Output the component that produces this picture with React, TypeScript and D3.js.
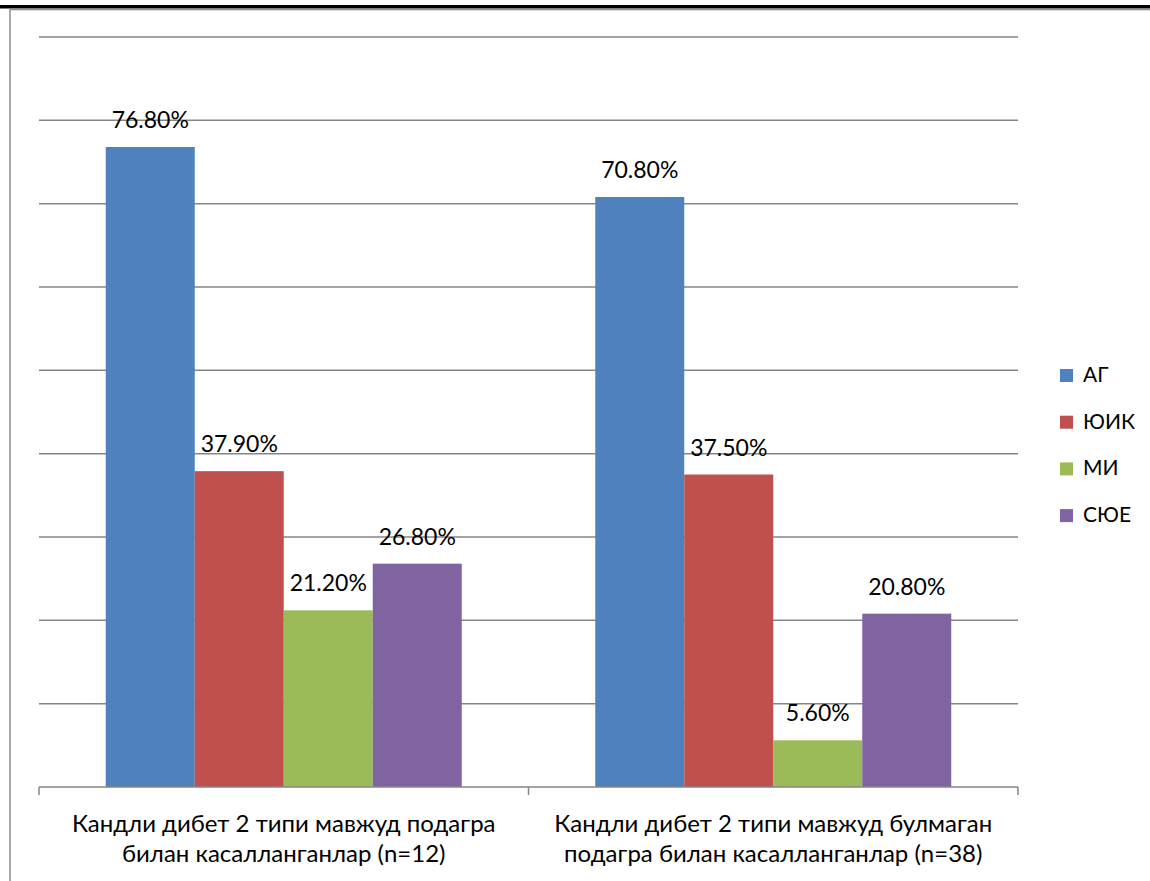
import React from "react";
import * as d3 from "d3";

const categories = [
  ["Кандли дибет 2 типи мавжуд подагра", "билан касалланганлар (n=12)"],
  ["Кандли дибет 2 типи мавжуд булмаган", "подагра билан касалланганлар (n=38)"],
];
const seriesNames = ["АГ", "ЮИК", "МИ", "СЮЕ"];
const seriesColors = ["#4F81BD", "#C0504D", "#9BBB59", "#8064A2"];
const seriesValues = [
  [0.768, 0.708],
  [0.379, 0.375],
  [0.212, 0.056],
  [0.268, 0.208],
];
const yTicks = [0, 0.1, 0.2, 0.3, 0.4, 0.5, 0.6, 0.7, 0.8, 0.9];

const W = 1150;
const H = 881;
const plot = { left: 39, right: 1018, top: 37, bottom: 787 };
const FONT = "Lato, 'Open Sans', sans-serif";

export default function App() {
  const y = d3.scaleLinear().domain([0, 0.9]).range([plot.bottom, plot.top]);
  const x0 = d3
    .scaleBand<number>()
    .domain(categories.map((_, i) => i))
    .range([plot.left, plot.right])
    .paddingInner(0)
    .paddingOuter(0);
  const innerPad = (x0.bandwidth() - 356) / 2;
  const x1 = d3
    .scaleBand<number>()
    .domain(seriesNames.map((_, i) => i))
    .range([innerPad, x0.bandwidth() - innerPad])
    .padding(0);

  const fmt = (v: number) => (v * 100).toFixed(2) + "%";

  return (
    <svg
      width={W}
      height={H}
      style={{ position: "absolute", left: 0, top: 0, background: "#fff" }}
      fontFamily={FONT}
    >
      <rect x={0} y={0} width={W} height={H} fill="#fff" />
      {/* page frame */}
      <rect x={0} y={5} width={W} height={3.5} fill="#000" />
      <line x1={10} x2={W} y1={9.5} y2={9.5} stroke="#8c8c8c" strokeWidth={1.5} />
      <line x1={10} x2={10} y1={9} y2={H} stroke="#8c8c8c" strokeWidth={1.5} />

      {/* gridlines */}
      {yTicks.slice(1).map((t) => (
        <line
          key={t}
          x1={plot.left}
          x2={plot.right}
          y1={y(t)}
          y2={y(t)}
          stroke="#868686"
          strokeWidth={1.5}
        />
      ))}

      {/* bars */}
      {seriesValues.map((vals, s) =>
        vals.map((v, c) => (
          <rect
            key={`${s}-${c}`}
            x={(x0(c) ?? 0) + (x1(s) ?? 0)}
            y={y(v)}
            width={x1.bandwidth()}
            height={y(0) - y(v)}
            fill={seriesColors[s]}
          />
        ))
      )}

      {/* x axis */}
      <line
        x1={plot.left}
        x2={plot.right}
        y1={plot.bottom}
        y2={plot.bottom}
        stroke="#868686"
        strokeWidth={1.5}
      />
      {[0, 1, 2].map((i) => {
        const xx = plot.left + i * x0.bandwidth();
        return (
          <line
            key={i}
            x1={xx}
            x2={xx}
            y1={plot.bottom}
            y2={plot.bottom + 8}
            stroke="#868686"
            strokeWidth={1.5}
          />
        );
      })}

      {/* value labels */}
      {seriesValues.map((vals, s) =>
        vals.map((v, c) => (
          <text
            key={`l-${s}-${c}`}
            x={(x0(c) ?? 0) + (x1(s) ?? 0) + x1.bandwidth() / 2}
            y={y(v) - 19}
            textAnchor="middle"
            fontSize={23}
            fill="#000"
          >
            {fmt(v)}
          </text>
        ))
      )}

      {/* category labels */}
      {categories.map((lines, c) => (
        <text
          key={`c-${c}`}
          x={(x0(c) ?? 0) + x0.bandwidth() / 2}
          textAnchor="middle"
          fontSize={24}
          fill="#000"
        >
          {lines.map((ln, k) => (
            <tspan key={k} x={(x0(c) ?? 0) + x0.bandwidth() / 2} y={832 + k * 30}>
              {ln}
            </tspan>
          ))}
        </text>
      ))}

      {/* legend */}
      {seriesNames.map((name, s) => (
        <g key={name} transform={`translate(1060, ${382 + s * 46.7})`}>
          <rect x={0} y={-13} width={13} height={13} fill={seriesColors[s]} />
          <text x={23} y={0} fontSize={21} fill="#000">
            {name}
          </text>
        </g>
      ))}
    </svg>
  );
}
